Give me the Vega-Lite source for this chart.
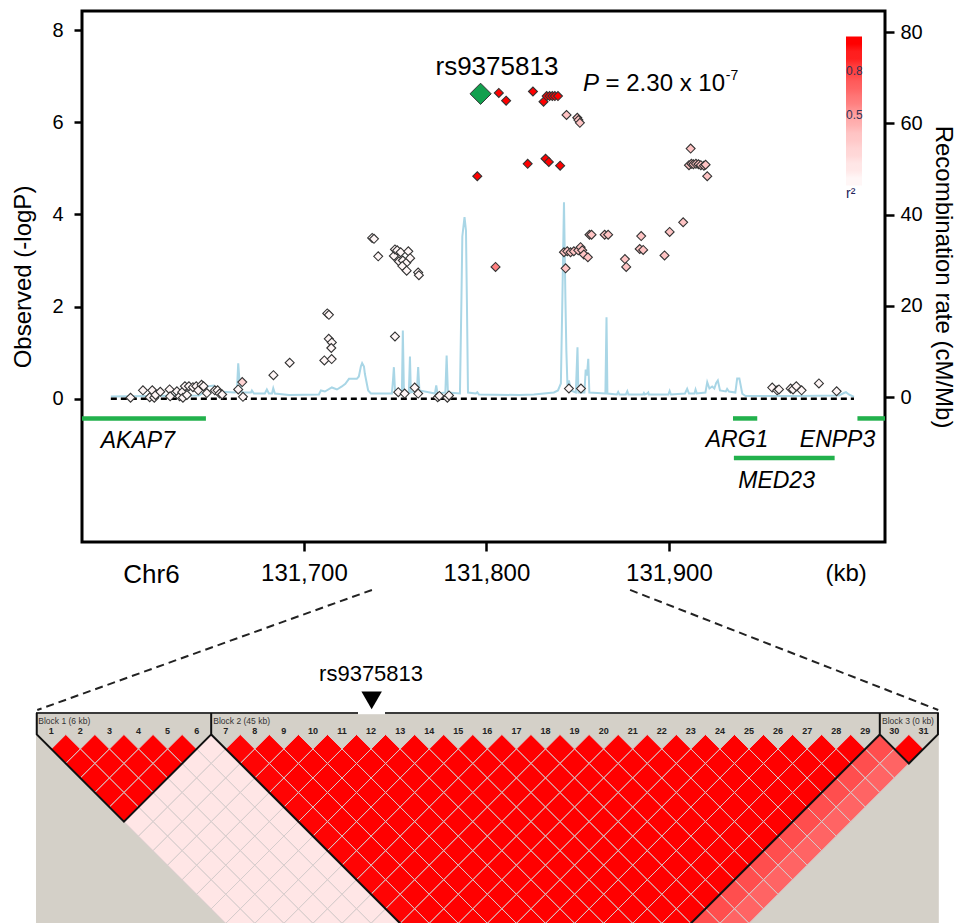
{
"$schema":"https://vega.github.io/schema/vega-lite/v6.json",
"padding":{"left":10,"top":9,"right":2,"bottom":0},
"bounds":"flush",
"center":true,
"spacing":18,
"background":"white",
"config":{"font":"Liberation Sans","axis":{"labelFont":"Liberation Sans","titleFont":"Liberation Sans","labelColor":"black","titleColor":"black","titleFontWeight":"normal","grid":false,"domain":false,"tickColor":"black"},"legend":{"labelFont":"Liberation Sans","titleFont":"Liberation Sans"}},
"datasets":{
"snps":[
{"kb":131605.0,"lp":0.02,"r2":0.02},{"kb":131611.8,"lp":0.18,"r2":0.02},{"kb":131615.5,"lp":0.03,"r2":0.02},{"kb":131616.9,"lp":0.18,"r2":0.02},{"kb":131618.0,"lp":0.02,"r2":0.02},{"kb":131618.7,"lp":0.08,"r2":0.02},{"kb":131621.3,"lp":0.15,"r2":0.02},{"kb":131626.4,"lp":0.2,"r2":0.02},{"kb":131626.7,"lp":0.05,"r2":0.02},{"kb":131630.4,"lp":0.16,"r2":0.02},{"kb":131631.9,"lp":0.05,"r2":0.02},{"kb":131633.3,"lp":0.14,"r2":0.02},{"kb":131633.7,"lp":0.02,"r2":0.02},{"kb":131634.8,"lp":0.27,"r2":0.02},{"kb":131635.9,"lp":0.08,"r2":0.02},{"kb":131637.0,"lp":0.27,"r2":0.02},{"kb":131639.2,"lp":0.25,"r2":0.02},{"kb":131641.0,"lp":0.27,"r2":0.02},{"kb":131642.1,"lp":0.18,"r2":0.02},{"kb":131643.9,"lp":0.3,"r2":0.02},{"kb":131645.0,"lp":0.27,"r2":0.02},{"kb":131646.8,"lp":0.12,"r2":0.02},{"kb":131651.2,"lp":0.18,"r2":0.02},{"kb":131652.7,"lp":0.18,"r2":0.02},{"kb":131653.8,"lp":0.11,"r2":0.02},{"kb":131655.2,"lp":0.09,"r2":0.02},{"kb":131664.0,"lp":0.2,"r2":0.02},{"kb":131666.2,"lp":0.36,"r2":0.25},{"kb":131666.6,"lp":0.04,"r2":0.02},{"kb":131683.3,"lp":0.51,"r2":0.02},{"kb":131692.2,"lp":0.78,"r2":0.02},{"kb":131711.2,"lp":0.83,"r2":0.02},{"kb":131715.2,"lp":0.86,"r2":0.02},{"kb":131712.8,"lp":1.85,"r2":0.02},{"kb":131713.7,"lp":1.82,"r2":0.02},{"kb":131713.6,"lp":1.30,"r2":0.02},{"kb":131715.3,"lp":1.22,"r2":0.02},{"kb":131715.0,"lp":1.10,"r2":0.02},{"kb":131749.9,"lp":1.35,"r2":0.02},{"kb":131751.7,"lp":0.14,"r2":0.02},{"kb":131755.2,"lp":0.11,"r2":0.02},{"kb":131760.7,"lp":0.24,"r2":0.02},{"kb":131762.6,"lp":0.11,"r2":0.02},{"kb":131773.3,"lp":0.03,"r2":0.02},{"kb":131774.2,"lp":0.06,"r2":0.02},{"kb":131778.6,"lp":0.02,"r2":0.02},{"kb":131779.5,"lp":0.07,"r2":0.02},
{"kb":131737.4,"lp":3.49,"r2":0.02},{"kb":131738.4,"lp":3.47,"r2":0.02},{"kb":131740.7,"lp":3.09,"r2":0.02},{"kb":131749.3,"lp":3.10,"r2":0.02},{"kb":131749.9,"lp":3.24,"r2":0.02},{"kb":131751.1,"lp":3.22,"r2":0.02},{"kb":131753.0,"lp":3.18,"r2":0.02},{"kb":131752.1,"lp":2.98,"r2":0.02},{"kb":131754.2,"lp":3.00,"r2":0.02},{"kb":131756.1,"lp":2.95,"r2":0.02},{"kb":131757.2,"lp":3.20,"r2":0.02},{"kb":131758.2,"lp":3.05,"r2":0.02},{"kb":131753.9,"lp":2.88,"r2":0.02},{"kb":131756.3,"lp":2.78,"r2":0.02},{"kb":131762.6,"lp":2.74,"r2":0.02},{"kb":131763.0,"lp":2.68,"r2":0.02},
{"kb":131845.2,"lp":0.22,"r2":0.02},{"kb":131851.8,"lp":0.22,"r2":0.02},{"kb":131956.6,"lp":0.24,"r2":0.02},{"kb":131959.3,"lp":0.18,"r2":0.02},{"kb":131960.3,"lp":0.20,"r2":0.02},{"kb":131966.7,"lp":0.22,"r2":0.02},{"kb":131968.0,"lp":0.20,"r2":0.02},{"kb":131969.8,"lp":0.27,"r2":0.02},{"kb":131972.7,"lp":0.18,"r2":0.02},{"kb":131982.2,"lp":0.33,"r2":0.02},{"kb":131991.9,"lp":0.16,"r2":0.02},
{"kb":131805.0,"lp":2.86,"r2":0.55},
{"kb":131843.4,"lp":2.83,"r2":0.32},{"kb":131842.5,"lp":3.18,"r2":0.32},{"kb":131844.3,"lp":3.20,"r2":0.32},{"kb":131846.1,"lp":3.18,"r2":0.32},{"kb":131847.9,"lp":3.20,"r2":0.32},{"kb":131850.3,"lp":3.22,"r2":0.32},{"kb":131851.6,"lp":3.29,"r2":0.32},{"kb":131852.5,"lp":3.22,"r2":0.32},{"kb":131853.4,"lp":3.13,"r2":0.32},{"kb":131855.6,"lp":3.07,"r2":0.32},{"kb":131856.5,"lp":3.56,"r2":0.32},{"kb":131857.6,"lp":3.56,"r2":0.32},{"kb":131864.8,"lp":3.56,"r2":0.32},{"kb":131866.7,"lp":3.56,"r2":0.32},{"kb":131875.9,"lp":3.03,"r2":0.32},{"kb":131876.6,"lp":2.86,"r2":0.32},{"kb":131884.8,"lp":3.53,"r2":0.32},{"kb":131884.0,"lp":3.25,"r2":0.32},{"kb":131885.9,"lp":3.23,"r2":0.32},{"kb":131897.6,"lp":3.11,"r2":0.32},{"kb":131900.4,"lp":3.62,"r2":0.32},{"kb":131907.8,"lp":3.83,"r2":0.32},{"kb":131911.9,"lp":5.43,"r2":0.32},{"kb":131911.0,"lp":5.07,"r2":0.32},{"kb":131912.3,"lp":5.10,"r2":0.32},{"kb":131913.4,"lp":5.09,"r2":0.32},{"kb":131914.8,"lp":5.10,"r2":0.32},{"kb":131916.2,"lp":5.09,"r2":0.32},{"kb":131917.5,"lp":5.07,"r2":0.32},{"kb":131919.2,"lp":5.06,"r2":0.32},{"kb":131920.1,"lp":5.08,"r2":0.32},{"kb":131921.0,"lp":4.83,"r2":0.32},{"kb":131843.9,"lp":6.16,"r2":0.32},{"kb":131849.8,"lp":6.10,"r2":0.32},{"kb":131850.4,"lp":6.05,"r2":0.32},{"kb":131851.2,"lp":5.99,"r2":0.32},
{"kb":131806.8,"lp":6.64,"r2":0.95},{"kb":131810.8,"lp":6.47,"r2":0.95},{"kb":131825.5,"lp":6.67,"r2":0.95},{"kb":131831.3,"lp":6.45,"r2":0.95},{"kb":131833.0,"lp":6.57,"r2":0.95},{"kb":131834.6,"lp":6.57,"r2":0.95},{"kb":131836.1,"lp":6.57,"r2":0.95},{"kb":131837.5,"lp":6.57,"r2":0.95},{"kb":131839.2,"lp":6.57,"r2":0.95},{"kb":131795.0,"lp":4.83,"r2":0.95},{"kb":131822.6,"lp":5.10,"r2":0.95},{"kb":131832.4,"lp":5.21,"r2":0.95},{"kb":131834.2,"lp":5.14,"r2":0.95},{"kb":131840.4,"lp":5.06,"r2":0.95}
],
"lead":[{"kb":131796.8,"lp":6.62,"snp":"rs9375813"}],
"recomb":[
{"kb":131594.2,"rate":0.15},{"kb":131615.1,"rate":0.26},{"kb":131642.5,"rate":0.37},{"kb":131645.2,"rate":1.03},{"kb":131646.8,"rate":2.35},{"kb":131650.7,"rate":2.56},{"kb":131652.3,"rate":1.25},{"kb":131662.2,"rate":1.03},{"kb":131663.3,"rate":1.47},{"kb":131664.0,"rate":7.45},{"kb":131664.7,"rate":3.66},{"kb":131666.0,"rate":1.03},{"kb":131671.0,"rate":1.03},{"kb":131671.5,"rate":1.47},{"kb":131672.6,"rate":0.81},{"kb":131678.6,"rate":0.81},{"kb":131679.7,"rate":1.69},{"kb":131680.8,"rate":0.81},{"kb":131682.5,"rate":0.81},{"kb":131683.2,"rate":1.97},{"kb":131684.1,"rate":0.81},{"kb":131691.8,"rate":0.48},{"kb":131708.2,"rate":0.59},{"kb":131709.3,"rate":1.47},{"kb":131711.5,"rate":1.25},{"kb":131715.3,"rate":2.13},{"kb":131718.1,"rate":1.69},{"kb":131720.8,"rate":2.35},{"kb":131722.7,"rate":2.94},{"kb":131724.7,"rate":4.03},{"kb":131729.0,"rate":4.03},{"kb":131730.1,"rate":4.54},{"kb":131731.2,"rate":6.73},{"kb":131731.9,"rate":7.45},{"kb":131732.9,"rate":6.73},{"kb":131733.4,"rate":5.13},{"kb":131735.2,"rate":1.47},{"kb":131736.7,"rate":0.81},{"kb":131748.2,"rate":0.81},{"kb":131748.8,"rate":3.66},{"kb":131749.3,"rate":6.58},{"kb":131749.9,"rate":1.47},{"kb":131753.7,"rate":1.03},{"kb":131754.2,"rate":14.62},{"kb":131754.8,"rate":1.03},{"kb":131757.5,"rate":1.03},{"kb":131758.1,"rate":8.92},{"kb":131758.6,"rate":1.03},{"kb":131761.9,"rate":1.47},{"kb":131762.6,"rate":6.58},{"kb":131763.3,"rate":1.47},{"kb":131771.8,"rate":0.81},{"kb":131772.5,"rate":2.56},{"kb":131773.2,"rate":0.81},{"kb":131777.5,"rate":1.03},{"kb":131778.2,"rate":9.14},{"kb":131778.9,"rate":1.03},{"kb":131785.5,"rate":0.81},{"kb":131786.3,"rate":21.19},{"kb":131786.8,"rate":35.22},{"kb":131788.0,"rate":39.45},{"kb":131788.8,"rate":36.54},{"kb":131789.3,"rate":21.19},{"kb":131789.9,"rate":1.03},{"kb":131794.2,"rate":0.81},{"kb":131795.0,"rate":1.10},{"kb":131795.9,"rate":0.59},{"kb":131817.8,"rate":0.48},{"kb":131826.0,"rate":0.59},{"kb":131837.0,"rate":1.03},{"kb":131839.2,"rate":1.47},{"kb":131840.8,"rate":3.0},{"kb":131841.6,"rate":21.19},{"kb":131842.5,"rate":42.74},{"kb":131843.3,"rate":21.19},{"kb":131843.8,"rate":10.24},{"kb":131844.4,"rate":2.56},{"kb":131845.2,"rate":3.66},{"kb":131846.3,"rate":1.47},{"kb":131849.0,"rate":1.03},{"kb":131849.9,"rate":10.96},{"kb":131850.4,"rate":1.03},{"kb":131853.7,"rate":1.03},{"kb":131854.4,"rate":6.07},{"kb":131855.1,"rate":4.76},{"kb":131855.8,"rate":8.42},{"kb":131856.4,"rate":1.03},{"kb":131865.2,"rate":0.81},{"kb":131865.8,"rate":17.53},{"kb":131866.3,"rate":0.81},{"kb":131871.5,"rate":0.59},{"kb":131872.2,"rate":1.14},{"kb":131872.9,"rate":0.59},{"kb":131876.4,"rate":0.59},{"kb":131877.2,"rate":1.32},{"kb":131877.8,"rate":0.59},{"kb":131885.8,"rate":0.59},{"kb":131886.3,"rate":0.92},{"kb":131886.8,"rate":0.59},{"kb":131888.2,"rate":0.81},{"kb":131888.7,"rate":1.03},{"kb":131889.0,"rate":0.59},{"kb":131899.7,"rate":0.59},{"kb":131900.4,"rate":1.36},{"kb":131901.1,"rate":0.59},{"kb":131908.8,"rate":0.81},{"kb":131910.0,"rate":1.84},{"kb":131911.0,"rate":0.81},{"kb":131914.0,"rate":0.81},{"kb":131914.6,"rate":1.69},{"kb":131915.3,"rate":0.81},{"kb":131920.0,"rate":1.03},{"kb":131921.0,"rate":3.29},{"kb":131922.2,"rate":1.91},{"kb":131923.7,"rate":2.35},{"kb":131924.9,"rate":1.91},{"kb":131925.9,"rate":3.11},{"kb":131926.8,"rate":3.66},{"kb":131928.0,"rate":1.47},{"kb":131931.2,"rate":1.25},{"kb":131931.9,"rate":1.80},{"kb":131932.9,"rate":1.25},{"kb":131936.4,"rate":1.03},{"kb":131937.4,"rate":4.10},{"kb":131938.6,"rate":4.10},{"kb":131940.2,"rate":0.75},{"kb":131942.0,"rate":0.26},{"kb":131971.2,"rate":0.26},{"kb":131993.2,"rate":0.37},{"kb":131995.9,"rate":0.92},{"kb":131997.0,"rate":1.10},{"kb":131998.6,"rate":0.59},{"kb":132001.4,"rate":0.04}
],
"base":[{"kb":131594.2,"kb2":132001.4,"lp":0}],
"genes":[{"gene":"AKAP7","kb":131578.4,"kb2":131646.3,"lp":-0.43},{"gene":"ARG1","kb":131935.1,"kb2":131948.4,"lp":-0.43},{"gene":"ENPP3","kb":132003.3,"kb2":132018.4,"lp":-0.43},{"gene":"MED23","kb":131935.6,"kb2":131990.8,"lp":-1.29}],
"genelabels":[{"t":"AKAP7","kb":131609.0,"lp":-1.08},{"t":"ARG1","kb":131937.3,"lp":-1.05},{"t":"ENPP3","kb":131992.4,"lp":-1.05},{"t":"MED23","kb":131959.0,"lp":-1.95}],
"rslabel":[{"t":"rs9375813","kb":131805.75,"lp":7.02}],
"pitalic":[{"t":"P","kb":131852.9,"lp":6.677}],
"pvalue":[{"t":"= 2.30 x 10","kb":131865.3,"lp":6.677}],
"pexp":[{"t":"-7","kb":131931.2,"lp":6.91}],
"ldbg":[{"m":0.474,"m2":31.53,"s":-1.477,"s2":14.006}],
"notch":[{"m":11.55,"m2":12.48,"s":-1.477}],
"ld":[
{"m":1.5,"s":1,"dp":1},{"m":2.5,"s":1,"dp":1},{"m":3.5,"s":1,"dp":1},{"m":4.5,"s":1,"dp":1},{"m":5.5,"s":1,"dp":1},{"m":6.5,"s":1,"dp":0.12},{"m":7.5,"s":1,"dp":0.94},{"m":8.5,"s":1,"dp":1},{"m":9.5,"s":1,"dp":1},{"m":10.5,"s":1,"dp":1},{"m":11.5,"s":1,"dp":1},{"m":12.5,"s":1,"dp":1},{"m":13.5,"s":1,"dp":1},{"m":14.5,"s":1,"dp":1},{"m":15.5,"s":1,"dp":1},{"m":16.5,"s":1,"dp":1},{"m":17.5,"s":1,"dp":1},{"m":18.5,"s":1,"dp":1},{"m":19.5,"s":1,"dp":1},{"m":20.5,"s":1,"dp":1},{"m":21.5,"s":1,"dp":1},{"m":22.5,"s":1,"dp":1},{"m":23.5,"s":1,"dp":1},{"m":24.5,"s":1,"dp":1},{"m":25.5,"s":1,"dp":1},{"m":26.5,"s":1,"dp":1},{"m":27.5,"s":1,"dp":1},{"m":28.5,"s":1,"dp":1},{"m":29.5,"s":1,"dp":0.72},{"m":30.5,"s":1,"dp":1},
{"m":2,"s":2,"dp":1},{"m":3,"s":2,"dp":1},{"m":4,"s":2,"dp":1},{"m":5,"s":2,"dp":1},{"m":6,"s":2,"dp":0.12},{"m":7,"s":2,"dp":0.12},{"m":8,"s":2,"dp":0.94},{"m":9,"s":2,"dp":1},{"m":10,"s":2,"dp":1},{"m":11,"s":2,"dp":1},{"m":12,"s":2,"dp":1},{"m":13,"s":2,"dp":1},{"m":14,"s":2,"dp":1},{"m":15,"s":2,"dp":1},{"m":16,"s":2,"dp":1},{"m":17,"s":2,"dp":1},{"m":18,"s":2,"dp":1},{"m":19,"s":2,"dp":1},{"m":20,"s":2,"dp":1},{"m":21,"s":2,"dp":1},{"m":22,"s":2,"dp":1},{"m":23,"s":2,"dp":1},{"m":24,"s":2,"dp":1},{"m":25,"s":2,"dp":1},{"m":26,"s":2,"dp":1},{"m":27,"s":2,"dp":1},{"m":28,"s":2,"dp":1},{"m":29,"s":2,"dp":0.72},{"m":30,"s":2,"dp":0.68},
{"m":2.5,"s":3,"dp":1},{"m":3.5,"s":3,"dp":1},{"m":4.5,"s":3,"dp":1},{"m":5.5,"s":3,"dp":0.12},{"m":6.5,"s":3,"dp":0.12},{"m":7.5,"s":3,"dp":0.12},{"m":8.5,"s":3,"dp":0.94},{"m":9.5,"s":3,"dp":1},{"m":10.5,"s":3,"dp":1},{"m":11.5,"s":3,"dp":1},{"m":12.5,"s":3,"dp":1},{"m":13.5,"s":3,"dp":1},{"m":14.5,"s":3,"dp":1},{"m":15.5,"s":3,"dp":1},{"m":16.5,"s":3,"dp":1},{"m":17.5,"s":3,"dp":1},{"m":18.5,"s":3,"dp":1},{"m":19.5,"s":3,"dp":1},{"m":20.5,"s":3,"dp":1},{"m":21.5,"s":3,"dp":1},{"m":22.5,"s":3,"dp":1},{"m":23.5,"s":3,"dp":1},{"m":24.5,"s":3,"dp":1},{"m":25.5,"s":3,"dp":1},{"m":26.5,"s":3,"dp":1},{"m":27.5,"s":3,"dp":1},{"m":28.5,"s":3,"dp":0.72},{"m":29.5,"s":3,"dp":0.68},
{"m":3,"s":4,"dp":1},{"m":4,"s":4,"dp":1},{"m":5,"s":4,"dp":0.12},{"m":6,"s":4,"dp":0.12},{"m":7,"s":4,"dp":0.12},{"m":8,"s":4,"dp":0.12},{"m":9,"s":4,"dp":0.94},{"m":10,"s":4,"dp":1},{"m":11,"s":4,"dp":1},{"m":12,"s":4,"dp":1},{"m":13,"s":4,"dp":1},{"m":14,"s":4,"dp":1},{"m":15,"s":4,"dp":1},{"m":16,"s":4,"dp":1},{"m":17,"s":4,"dp":1},{"m":18,"s":4,"dp":1},{"m":19,"s":4,"dp":1},{"m":20,"s":4,"dp":1},{"m":21,"s":4,"dp":1},{"m":22,"s":4,"dp":1},{"m":23,"s":4,"dp":1},{"m":24,"s":4,"dp":1},{"m":25,"s":4,"dp":1},{"m":26,"s":4,"dp":1},{"m":27,"s":4,"dp":1},{"m":28,"s":4,"dp":0.72},{"m":29,"s":4,"dp":0.68},
{"m":3.5,"s":5,"dp":1},{"m":4.5,"s":5,"dp":0.12},{"m":5.5,"s":5,"dp":0.12},{"m":6.5,"s":5,"dp":0.12},{"m":7.5,"s":5,"dp":0.12},{"m":8.5,"s":5,"dp":0.12},{"m":9.5,"s":5,"dp":0.94},{"m":10.5,"s":5,"dp":1},{"m":11.5,"s":5,"dp":1},{"m":12.5,"s":5,"dp":1},{"m":13.5,"s":5,"dp":1},{"m":14.5,"s":5,"dp":1},{"m":15.5,"s":5,"dp":1},{"m":16.5,"s":5,"dp":1},{"m":17.5,"s":5,"dp":1},{"m":18.5,"s":5,"dp":1},{"m":19.5,"s":5,"dp":1},{"m":20.5,"s":5,"dp":1},{"m":21.5,"s":5,"dp":1},{"m":22.5,"s":5,"dp":1},{"m":23.5,"s":5,"dp":1},{"m":24.5,"s":5,"dp":1},{"m":25.5,"s":5,"dp":1},{"m":26.5,"s":5,"dp":1},{"m":27.5,"s":5,"dp":0.72},{"m":28.5,"s":5,"dp":0.68},
{"m":4,"s":6,"dp":0.12},{"m":5,"s":6,"dp":0.12},{"m":6,"s":6,"dp":0.12},{"m":7,"s":6,"dp":0.12},{"m":8,"s":6,"dp":0.12},{"m":9,"s":6,"dp":0.12},{"m":10,"s":6,"dp":0.94},{"m":11,"s":6,"dp":1},{"m":12,"s":6,"dp":1},{"m":13,"s":6,"dp":1},{"m":14,"s":6,"dp":1},{"m":15,"s":6,"dp":1},{"m":16,"s":6,"dp":1},{"m":17,"s":6,"dp":1},{"m":18,"s":6,"dp":1},{"m":19,"s":6,"dp":1},{"m":20,"s":6,"dp":1},{"m":21,"s":6,"dp":1},{"m":22,"s":6,"dp":1},{"m":23,"s":6,"dp":1},{"m":24,"s":6,"dp":1},{"m":25,"s":6,"dp":1},{"m":26,"s":6,"dp":1},{"m":27,"s":6,"dp":0.72},{"m":28,"s":6,"dp":0.68},
{"m":4.5,"s":7,"dp":0.12},{"m":5.5,"s":7,"dp":0.12},{"m":6.5,"s":7,"dp":0.12},{"m":7.5,"s":7,"dp":0.12},{"m":8.5,"s":7,"dp":0.12},{"m":9.5,"s":7,"dp":0.12},{"m":10.5,"s":7,"dp":0.94},{"m":11.5,"s":7,"dp":1},{"m":12.5,"s":7,"dp":1},{"m":13.5,"s":7,"dp":1},{"m":14.5,"s":7,"dp":1},{"m":15.5,"s":7,"dp":1},{"m":16.5,"s":7,"dp":1},{"m":17.5,"s":7,"dp":1},{"m":18.5,"s":7,"dp":1},{"m":19.5,"s":7,"dp":1},{"m":20.5,"s":7,"dp":1},{"m":21.5,"s":7,"dp":1},{"m":22.5,"s":7,"dp":1},{"m":23.5,"s":7,"dp":1},{"m":24.5,"s":7,"dp":1},{"m":25.5,"s":7,"dp":1},{"m":26.5,"s":7,"dp":0.72},{"m":27.5,"s":7,"dp":0.68},
{"m":5,"s":8,"dp":0.12},{"m":6,"s":8,"dp":0.12},{"m":7,"s":8,"dp":0.12},{"m":8,"s":8,"dp":0.12},{"m":9,"s":8,"dp":0.12},{"m":10,"s":8,"dp":0.12},{"m":11,"s":8,"dp":0.94},{"m":12,"s":8,"dp":1},{"m":13,"s":8,"dp":1},{"m":14,"s":8,"dp":1},{"m":15,"s":8,"dp":1},{"m":16,"s":8,"dp":1},{"m":17,"s":8,"dp":1},{"m":18,"s":8,"dp":1},{"m":19,"s":8,"dp":1},{"m":20,"s":8,"dp":1},{"m":21,"s":8,"dp":1},{"m":22,"s":8,"dp":1},{"m":23,"s":8,"dp":1},{"m":24,"s":8,"dp":1},{"m":25,"s":8,"dp":1},{"m":26,"s":8,"dp":0.72},{"m":27,"s":8,"dp":0.68},
{"m":5.5,"s":9,"dp":0.12},{"m":6.5,"s":9,"dp":0.12},{"m":7.5,"s":9,"dp":0.12},{"m":8.5,"s":9,"dp":0.12},{"m":9.5,"s":9,"dp":0.12},{"m":10.5,"s":9,"dp":0.12},{"m":11.5,"s":9,"dp":0.94},{"m":12.5,"s":9,"dp":1},{"m":13.5,"s":9,"dp":1},{"m":14.5,"s":9,"dp":1},{"m":15.5,"s":9,"dp":1},{"m":16.5,"s":9,"dp":1},{"m":17.5,"s":9,"dp":1},{"m":18.5,"s":9,"dp":1},{"m":19.5,"s":9,"dp":1},{"m":20.5,"s":9,"dp":1},{"m":21.5,"s":9,"dp":1},{"m":22.5,"s":9,"dp":1},{"m":23.5,"s":9,"dp":1},{"m":24.5,"s":9,"dp":1},{"m":25.5,"s":9,"dp":0.72},{"m":26.5,"s":9,"dp":0.68},
{"m":6,"s":10,"dp":0.12},{"m":7,"s":10,"dp":0.12},{"m":8,"s":10,"dp":0.12},{"m":9,"s":10,"dp":0.12},{"m":10,"s":10,"dp":0.12},{"m":11,"s":10,"dp":0.12},{"m":12,"s":10,"dp":0.94},{"m":13,"s":10,"dp":1},{"m":14,"s":10,"dp":1},{"m":15,"s":10,"dp":1},{"m":16,"s":10,"dp":1},{"m":17,"s":10,"dp":1},{"m":18,"s":10,"dp":1},{"m":19,"s":10,"dp":1},{"m":20,"s":10,"dp":1},{"m":21,"s":10,"dp":1},{"m":22,"s":10,"dp":1},{"m":23,"s":10,"dp":1},{"m":24,"s":10,"dp":1},{"m":25,"s":10,"dp":0.72},{"m":26,"s":10,"dp":0.68},
{"m":6.5,"s":11,"dp":0.12},{"m":7.5,"s":11,"dp":0.12},{"m":8.5,"s":11,"dp":0.12},{"m":9.5,"s":11,"dp":0.12},{"m":10.5,"s":11,"dp":0.12},{"m":11.5,"s":11,"dp":0.12},{"m":12.5,"s":11,"dp":0.94},{"m":13.5,"s":11,"dp":1},{"m":14.5,"s":11,"dp":1},{"m":15.5,"s":11,"dp":1},{"m":16.5,"s":11,"dp":1},{"m":17.5,"s":11,"dp":1},{"m":18.5,"s":11,"dp":1},{"m":19.5,"s":11,"dp":1},{"m":20.5,"s":11,"dp":1},{"m":21.5,"s":11,"dp":1},{"m":22.5,"s":11,"dp":1},{"m":23.5,"s":11,"dp":1},{"m":24.5,"s":11,"dp":0.72},{"m":25.5,"s":11,"dp":0.68},
{"m":7,"s":12,"dp":0.12},{"m":8,"s":12,"dp":0.12},{"m":9,"s":12,"dp":0.12},{"m":10,"s":12,"dp":0.12},{"m":11,"s":12,"dp":0.12},{"m":12,"s":12,"dp":0.12},{"m":13,"s":12,"dp":0.94},{"m":14,"s":12,"dp":1},{"m":15,"s":12,"dp":1},{"m":16,"s":12,"dp":1},{"m":17,"s":12,"dp":1},{"m":18,"s":12,"dp":1},{"m":19,"s":12,"dp":1},{"m":20,"s":12,"dp":1},{"m":21,"s":12,"dp":1},{"m":22,"s":12,"dp":1},{"m":23,"s":12,"dp":1},{"m":24,"s":12,"dp":0.72},{"m":25,"s":12,"dp":0.68},
{"m":7.5,"s":13,"dp":0.12},{"m":8.5,"s":13,"dp":0.12},{"m":9.5,"s":13,"dp":0.12},{"m":10.5,"s":13,"dp":0.12},{"m":11.5,"s":13,"dp":0.12},{"m":12.5,"s":13,"dp":0.12},{"m":13.5,"s":13,"dp":0.94},{"m":14.5,"s":13,"dp":1},{"m":15.5,"s":13,"dp":1},{"m":16.5,"s":13,"dp":1},{"m":17.5,"s":13,"dp":1},{"m":18.5,"s":13,"dp":1},{"m":19.5,"s":13,"dp":1},{"m":20.5,"s":13,"dp":1},{"m":21.5,"s":13,"dp":1},{"m":22.5,"s":13,"dp":1},{"m":23.5,"s":13,"dp":0.72},{"m":24.5,"s":13,"dp":0.68}
],
"blocks":[
{"blk":1,"o":1,"m":0.5,"s":-1.477},{"blk":1,"o":2,"m":0.5,"s":0},{"blk":1,"o":3,"m":3.5,"s":6},{"blk":1,"o":4,"m":6.5,"s":0},{"blk":1,"o":5,"m":6.5,"s":-1.477},
{"blk":2,"o":1,"m":6.5,"s":0},{"blk":2,"o":2,"m":18,"s":23},{"blk":2,"o":3,"m":29.5,"s":0},
{"blk":3,"o":1,"m":29.5,"s":-1.477},{"blk":3,"o":2,"m":29.5,"s":0},{"blk":3,"o":3,"m":30.5,"s":2},{"blk":3,"o":4,"m":31.5,"s":0},{"blk":3,"o":5,"m":31.5,"s":-1.477}
],
"snpnum":[{"n":1,"m":1,"s":-0.24},{"n":2,"m":2,"s":-0.24},{"n":3,"m":3,"s":-0.24},{"n":4,"m":4,"s":-0.24},{"n":5,"m":5,"s":-0.24},{"n":6,"m":6,"s":-0.24},{"n":7,"m":7,"s":-0.24},{"n":8,"m":8,"s":-0.24},{"n":9,"m":9,"s":-0.24},{"n":10,"m":10,"s":-0.24},{"n":11,"m":11,"s":-0.24},{"n":12,"m":12,"s":-0.24},{"n":13,"m":13,"s":-0.24},{"n":14,"m":14,"s":-0.24},{"n":15,"m":15,"s":-0.24},{"n":16,"m":16,"s":-0.24},{"n":17,"m":17,"s":-0.24},{"n":18,"m":18,"s":-0.24},{"n":19,"m":19,"s":-0.24},{"n":20,"m":20,"s":-0.24},{"n":21,"m":21,"s":-0.24},{"n":22,"m":22,"s":-0.24},{"n":23,"m":23,"s":-0.24},{"n":24,"m":24,"s":-0.24},{"n":25,"m":25,"s":-0.24},{"n":26,"m":26,"s":-0.24},{"n":27,"m":27,"s":-0.24},{"n":28,"m":28,"s":-0.24},{"n":29,"m":29,"s":-0.24},{"n":30,"m":30,"s":-0.24},{"n":31,"m":31,"s":-0.24}],
"blocklab":[{"t":"Block 1 (6 kb)","m":0.553,"s":-0.906},{"t":"Block 2 (45 kb)","m":6.573,"s":-0.906},{"t":"Block 3 (0 kb)","m":29.575,"s":-0.906}],
"connect":[{"side":"L","o":1,"m":12.03,"s":-9.94},{"side":"L","o":2,"m":0.518,"s":-1.68},{"side":"R","o":1,"m":20.91,"s":-9.94},{"side":"R","o":2,"m":31.51,"s":-1.68}],
"arrow":[{"snp":"rs9375813","m":12.02,"s":-2.337}],
"rslab2":[{"t":"rs9375813","m":12.0,"s":-3.70}]
},
"vconcat":[
{
"width":803,"height":531,
"view":{"stroke":"black","strokeWidth":3},
"encoding":{"x":{"field":"kb","type":"quantitative","scale":{"domain":[131578.4,132018.4],"nice":false,"zero":false},
 "axis":{"orient":"bottom","values":[131616.2,131700,131800,131900,131996.8],"title":null,"grid":false,"domain":false,"tickSize":9,"tickWidth":2.5,"tickColor":"black",
 "tickOpacity":{"condition":{"test":"datum.value < 131650 || datum.value > 131950","value":0},"value":1},
 "labelExpr":"datum.value < 131650 ? 'Chr6' : (datum.value > 131950 ? '(kb)' : format(datum.value, ','))",
 "labelFontSize":{"condition":{"test":"datum.value < 131650","value":26},"value":24},
 "labelPadding":10,"labelColor":"black","labelFlush":false,"labelOverlap":false}}},
"layer":[
 {"data":{"name":"recomb"},"mark":{"type":"line","color":"#a9d6e6","strokeWidth":2},
  "encoding":{"y":{"field":"rate","type":"quantitative","scale":{"domain":[-31.74,84.65],"nice":false,"zero":false},
   "axis":{"orient":"right","values":[0,20,40,60,80],"title":"Recombination rate (cM/Mb)","titleFontSize":24,"titleFontWeight":"normal","titlePadding":8,"tickSize":9,"tickWidth":2.5,"labelFontSize":20,"labelPadding":6,"grid":false,"domain":false}}}},
 {"encoding":{"y":{"field":"lp","type":"quantitative","scale":{"domain":[-3.113,8.418],"nice":false,"zero":false},
   "axis":{"orient":"left","values":[0,2,4,6,8],"title":"Observed (-logP)","titleFontSize":24,"titleFontWeight":"normal","titlePadding":16,"tickSize":8,"tickWidth":2.5,"labelFontSize":20,"labelPadding":11,"grid":false,"domain":false}}},
  "layer":[
   {"data":{"name":"base"},"mark":{"type":"rule","strokeDash":[6,4],"strokeWidth":2.5,"color":"black"},"encoding":{"x2":{"field":"kb2"}}},
   {"data":{"name":"genes"},"mark":{"type":"rule","strokeWidth":4.5,"color":"#22b14c"},"encoding":{"x2":{"field":"kb2"}}},
   {"data":{"name":"genelabels"},"mark":{"type":"text","fontStyle":"italic","fontSize":23,"align":"center","baseline":"alphabetic","color":"black"},"encoding":{"text":{"field":"t"}}},
   {"data":{"name":"snps"},"mark":{"type":"point","shape":"diamond","filled":true,"size":80,"stroke":"#333333","strokeWidth":1.1,"opacity":1},
    "encoding":{"fill":{"field":"r2","type":"quantitative","scale":{"type":"linear","domain":[0,0.1,0.1,0.2,0.2,0.3,0.3,0.4,0.4,0.5,0.5,0.6,0.6,0.7,0.7,0.8,0.8,0.9,0.9,1],"range":["#fff6f6","#fff6f6","#ffe6e6","#ffe6e6","#ffd4d4","#ffd4d4","#ffc4c4","#ffc4c4","#ffa8a8","#ffa8a8","#ff8080","#ff8080","#ff6464","#ff6464","#ff4444","#ff4444","#ff2020","#ff2020","#ff0000","#ff0000"],"interpolate":"rgb","nice":false,"zero":false},
     "legend":{"orient":"none","legendX":810,"legendY":25.5,"direction":"vertical","gradientLength":149,"gradientThickness":16,"values":[0.47,0.77],"labelExpr":"datum.value > 0.6 ? '0.8' : '0.5'","title":"r²","titleOrient":"bottom","titleFontSize":14,"titleFontWeight":"normal","titleColor":"#22225a","titlePadding":1,"titleAnchor":"start","labelOffset":-16,"labelAlign":"left","labelFontSize":12,"labelColor":"#333355","gradientStrokeWidth":0,"padding":0,"labelOverlap":false}}}},
   {"data":{"name":"lead"},"mark":{"type":"point","shape":"diamond","filled":true,"size":450,"fill":"#12a04e","stroke":"#333333","strokeWidth":1,"opacity":1}},
   {"data":{"name":"rslabel"},"mark":{"type":"text","fontSize":26,"align":"center","baseline":"alphabetic","color":"black"},"encoding":{"text":{"field":"t"}}},
   {"data":{"name":"pitalic"},"mark":{"type":"text","fontSize":24,"fontStyle":"italic","align":"left","baseline":"alphabetic","color":"black"},"encoding":{"text":{"field":"t"}}},
   {"data":{"name":"pvalue"},"mark":{"type":"text","fontSize":24,"align":"left","baseline":"alphabetic","color":"black"},"encoding":{"text":{"field":"t"}}},
   {"data":{"name":"pexp"},"mark":{"type":"text","fontSize":14,"align":"left","baseline":"alphabetic","color":"black"},"encoding":{"text":{"field":"t"}}}
  ]}
],
"resolve":{"scale":{"y":"independent"}}
},
{
"width":895,"height":378,
"view":{"stroke":null},
"encoding":{
 "x":{"field":"m","type":"quantitative","scale":{"domain":[0.474,31.261],"nice":false,"zero":false},"axis":null},
 "y":{"field":"s","type":"quantitative","scale":{"domain":[-12,14.006],"nice":false,"zero":false,"reverse":true},"axis":null}},
"layer":[
 {"data":{"name":"ldbg"},"mark":{"type":"rect","fill":"#d4d0c8"},"encoding":{"x2":{"field":"m2"},"y2":{"field":"s2"}}},
 {"data":{"name":"ldbg"},"mark":{"type":"rule","stroke":"#3a3a3a","strokeWidth":2},"encoding":{"x2":{"field":"m2"}}},
 {"data":{"name":"notch"},"mark":{"type":"rule","stroke":"white","strokeWidth":2.5},"encoding":{"x2":{"field":"m2"}}},
 {"data":{"name":"ld"},"mark":{"type":"point","shape":"diamond","filled":true,"size":845,"stroke":"#d6cccc","strokeWidth":1,"opacity":1},
  "encoding":{"fill":{"field":"dp","type":"quantitative","scale":{"domain":[0,1],"range":["#ffffff","#ff0000"],"interpolate":"rgb"},"legend":null}}},
 {"data":{"name":"blocks"},"mark":{"type":"line","stroke":"#111111","strokeWidth":2},"encoding":{"detail":{"field":"blk"},"order":{"field":"o"}}},
 {"data":{"name":"snpnum"},"mark":{"type":"text","fontSize":9,"fontWeight":"bold","color":"#222222","baseline":"middle"},"encoding":{"text":{"field":"n"}}},
 {"data":{"name":"blocklab"},"mark":{"type":"text","fontSize":8.5,"align":"left","baseline":"middle","color":"#333333"},"encoding":{"text":{"field":"t"}}},
 {"data":{"name":"connect"},"mark":{"type":"line","strokeDash":[8,5],"strokeWidth":2,"stroke":"#222222"},"encoding":{"detail":{"field":"side"},"order":{"field":"o"}}},
 {"data":{"name":"arrow"},"mark":{"type":"point","shape":"triangle-down","filled":true,"size":420,"color":"black","opacity":1}},
 {"data":{"name":"rslab2"},"mark":{"type":"text","fontSize":22,"align":"center","baseline":"alphabetic","color":"black"},"encoding":{"text":{"field":"t"}}}
]
}
]
}
